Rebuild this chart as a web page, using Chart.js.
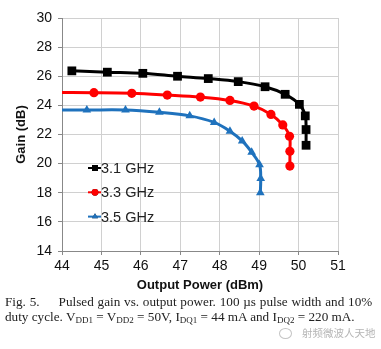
<!DOCTYPE html>
<html>
<head>
<meta charset="utf-8">
<script src="https://cdn.jsdelivr.net/npm/chart.js@4/dist/chart.umd.min.js"></script>
<style>
    html, body { margin: 0; padding: 0; background: #fff; }
    #wrap { position: relative; width: 381px; height: 349px; overflow: hidden; }
    #chartCanvas { position: absolute; left: 0; top: 0; }
    .cap { position: absolute; left: 5px; font-family: "Liberation Serif", "Times New Roman", serif;
           font-size: 13.2px; color: #222; white-space: nowrap; }
    .cap sub { font-size: 9px; vertical-align: -2px; line-height: 0; }
    #wm { position: absolute; left: 302px; top: 325px; font-family: "Noto Sans CJK SC", sans-serif;
          font-size: 10.5px; color: #b5b5b5; }
    #wmIcon { position: absolute; left: 279px; top: 328px; width: 11px; height: 9px;
              border: 1.2px solid #c4c4c4; border-radius: 50%; }
</style>
</head>
<body>
<div id="wrap">
    <canvas id="chartCanvas" width="381" height="296"></canvas>
    <div class="cap" style="top:294px; word-spacing:0.5px;">Fig. 5.<span style="display:inline-block;width:19px"></span>Pulsed gain vs. output power. 100 µs pulse width and 10%</div>
    <div class="cap" style="top:309px;">duty cycle. V<sub>DD1</sub> = V<sub>DD2</sub> = 50V, I<sub>DQ1</sub> = 44 mA and I<sub>DQ2</sub> = 220 mA.</div>
    <div id="wmIcon"></div>
    <div id="wm">射频微波人天地</div>
</div>
<script>
// ============================================
// DATA
// ============================================
const xTicks = [44, 45, 46, 47, 48, 49, 50, 51];
const yTicks = [14, 16, 18, 20, 22, 24, 26, 28, 30];

const seriesLabels = ['3.1 GHz', '3.3 GHz', '3.5 GHz'];

const power31 = [44.25, 45.15, 46.05, 46.93, 47.71, 48.47, 49.15, 49.66, 50.02, 50.17, 50.19, 50.19];
const gain31  = [26.37, 26.28, 26.20, 26.00, 25.84, 25.63, 25.28, 24.76, 24.07, 23.28, 22.34, 21.26];

const power33 = [43.70, 44.81, 45.77, 46.67, 47.51, 48.26, 48.87, 49.30, 49.60, 49.77, 49.78, 49.78];
const gain33  = [24.88, 24.87, 24.83, 24.71, 24.57, 24.34, 23.95, 23.38, 22.66, 21.88, 20.85, 19.83];

const power35 = [43.70, 44.63, 45.61, 46.47, 47.24, 47.86, 48.26, 48.57, 48.81, 49.01, 49.04, 49.03];
const gain35  = [23.68, 23.68, 23.68, 23.52, 23.28, 22.83, 22.23, 21.56, 20.78, 19.93, 18.97, 18.00];

// ============================================
// CHART
// ============================================
function toPoints(xs, ys) {
    return xs.map(function(x, i) {
        return { x: x, y: ys[i] };
    });
}

const FONT = '"Liberation Sans", Arial, sans-serif';

// legend drawn inside the plot area, like the original
const insideLegend = {
    id: 'insideLegend',
    afterDraw: function(chart) {
        const ctx = chart.ctx;
        const area = chart.chartArea;
        const x0 = area.left + 26;
        const y0 = area.top + 150;
        ctx.save();
        chart.data.datasets.forEach(function(ds, i) {
            const y = y0 + i * 24.3;
            ctx.strokeStyle = ds.borderColor;
            ctx.lineWidth = 2;
            ctx.beginPath();
            ctx.moveTo(x0, y);
            ctx.lineTo(x0 + 13, y);
            ctx.stroke();
            Chart.helpers.drawPoint(ctx, {
                pointStyle: ds.pointStyle,
                radius: ds.pointStyle === 'rect' ? 4.2 : 3.4,
                borderWidth: 0
            }, x0 + 7, y);
            ctx.fillStyle = ds.borderColor;
            ctx.fill();
            ctx.fillStyle = '#222';
            ctx.font = '14.5px ' + FONT;
            ctx.textBaseline = 'middle';
            ctx.textAlign = 'left';
            ctx.fillText(ds.label, x0 + 13, y + 1);
        });
        ctx.restore();
    }
};

const ctx = document.getElementById('chartCanvas').getContext('2d');

const colors = ['#000000', '#ff0000', '#1f72bd'];
const styles = ['rect', 'circle', 'triangle'];
const radii = [6.2, 4.6, 5];
const xs = [power31, power33, power35];
const ys = [gain31, gain33, gain35];

const myChart = new Chart(ctx, {
    type: 'line',
    data: {
        datasets: seriesLabels.map(function(label, i) {
            return {
                label: label,
                data: toPoints(xs[i], ys[i]),
                borderColor: colors[i],
                backgroundColor: colors[i],
                borderWidth: 3,
                pointStyle: styles[i],
                pointRadius: radii[i],
                pointBorderWidth: 0,
                tension: 0.35,
                fill: false
            };
        })
    },
    options: {
        responsive: false,
        animation: false,
        layout: { padding: { top: 18, right: 43, left: 14, bottom: 0 } },
        plugins: {
            legend: { display: false },
            tooltip: { enabled: false }
        },
        scales: {
            x: {
                type: 'linear',
                min: xTicks[0],
                max: xTicks[xTicks.length - 1],
                afterBuildTicks: function(axis) {
                    axis.ticks = xTicks.map(function(v) { return { value: v }; });
                },
                afterFit: function(axis) {
                    axis.height = 45;
                },
                grid: { color: '#d0d0d0', tickLength: 4, tickColor: '#888' },
                border: { color: '#888' },
                ticks: { color: '#111', font: { family: FONT, size: 14 }, padding: 3, maxRotation: 0 },
                title: {
                    display: true,
                    text: 'Output Power (dBm)',
                    color: '#111',
                    font: { family: FONT, size: 13, weight: 'bold' },
                    padding: { top: 3, bottom: 3 }
                }
            },
            y: {
                type: 'linear',
                min: yTicks[0],
                max: yTicks[yTicks.length - 1],
                afterBuildTicks: function(axis) {
                    axis.ticks = yTicks.map(function(v) { return { value: v }; });
                },
                afterFit: function(axis) {
                    axis.width = 48;
                },
                grid: { color: '#d0d0d0', tickLength: 4, tickColor: '#888' },
                border: { color: '#888' },
                ticks: { color: '#111', font: { family: FONT, size: 14 }, padding: 6 },
                title: {
                    display: true,
                    text: 'Gain (dB)',
                    color: '#111',
                    font: { family: FONT, size: 13, weight: 'bold' },
                    padding: { top: 0, bottom: 0 }
                }
            }
        }
    },
    plugins: [insideLegend]
});
</script>
</body>
</html>
